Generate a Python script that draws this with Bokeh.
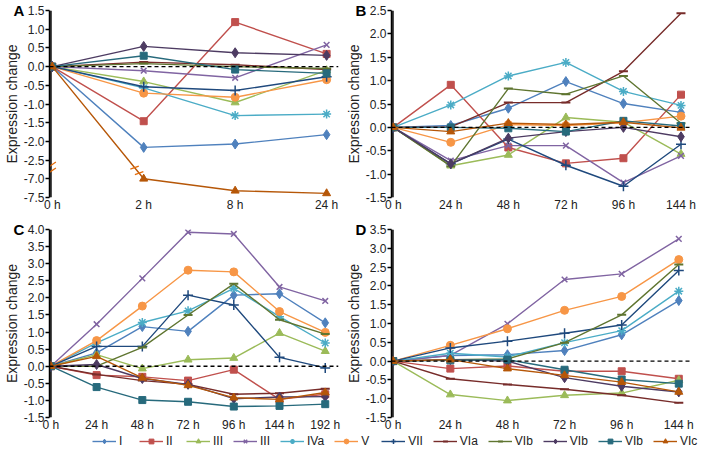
from bokeh.plotting import figure
from bokeh.models import Range1d, FixedTicker, Span, Legend, LegendItem
from bokeh.layouts import row, column
from bokeh.embed import file_html
from bokeh.resources import INLINE

# ---------------- data ----------------
series_names = ["I", "II", "III", "III", "IVa", "V", "VII", "VIa", "VIb", "VIb", "VIb", "VIc"]
colors = ["#4F81BD", "#C0504D", "#9BBB59", "#8064A2", "#4BACC6", "#F79646",
          "#1F497D", "#772C2A", "#5F7530", "#4D3B62", "#276A7C", "#B65708"]
markers = ["diamond", "square", "triangle", "x", "asterisk", "circle",
           "cross", "dash", "dash", "diamond", "square", "triangle"]

times_A = ["0 h", "2 h", "8 h", "24 h"]
A_I = [0, -2.16, -2.07, -1.82]
A_II = [0, -1.46, 1.19, 0.34]
A_III = [0, -0.40, -0.96, -0.10]
A_IIIx = [0, -0.11, -0.30, 0.58]
A_IVa = [0, -0.57, -1.31, -1.27]
A_V = [0, -0.71, -0.82, -0.35]
A_VII = [0, -0.54, -0.64, -0.27]
A_VIa = [0, 0.12, 0.05, -0.08]
A_VIb1 = [0, 0.08, 0.00, -0.05]
A_VIb2 = [0, 0.54, 0.37, 0.30]
A_VIb3 = [0, 0.29, -0.08, -0.18]
A_VIc = [0, -7.00, -7.32, -7.39]

times_B = ["0 h", "24 h", "48 h", "72 h", "96 h", "144 h"]
B_I = [0, 0.04, 0.41, 0.98, 0.51, 0.32]
B_II = [0, 0.91, -0.43, -0.77, -0.66, 0.70]
B_III = [0, -0.82, -0.59, 0.21, 0.11, -0.57]
B_IIIx = [0, -0.71, -0.39, -0.39, -1.18, -0.61]
B_IVa = [0, 0.48, 1.10, 1.39, 0.77, 0.47]
B_V = [0, -0.32, 0.06, 0.04, 0.10, 0.24]
B_VII = [0, -0.78, -0.25, -0.81, -1.26, -0.36]
B_VIa = [0, 0.01, 0.53, 0.53, 1.20, 2.44]
B_VIb1 = [0, -0.83, 0.83, 0.71, 1.10, 0.09]
B_VIb2 = [0, -0.78, -0.23, -0.09, 0.00, -0.20]
B_VIb3 = [0, 0.00, -0.02, -0.09, 0.14, 0.03]
B_VIc = [0, -0.09, 0.09, 0.06, 0.11, -0.01]

times_C = ["0 h", "24 h", "48 h", "72 h", "96 h", "144 h", "192 h"]
C_I = [0, 0.39, 1.16, 1.02, 2.08, 2.12, 1.27]
C_II = [0, -0.26, -0.31, -0.42, -0.10, -0.97, -0.82]
C_III = [0, 0.34, -0.07, 0.19, 0.24, 0.97, 0.44]
C_IIIx = [0, 1.23, 2.57, 3.92, 3.87, 2.32, 1.91]
C_IVa = [0, 0.68, 1.28, 1.62, 2.28, 1.45, 0.68]
C_V = [0, 0.75, 1.76, 2.81, 2.76, 1.60, 0.99]
C_VII = [0, 0.58, 0.58, 2.08, 1.79, 0.26, -0.05]
C_VIa = [0, -0.24, -0.42, -0.53, -0.82, -0.79, -0.66]
C_VIb1 = [0, 0.00, 0.55, 1.50, 2.41, 1.36, 0.94]
C_VIb2 = [0, 0.05, -0.36, -0.53, -0.95, -0.90, -0.89]
C_VIb3 = [0, -0.61, -0.99, -1.04, -1.18, -1.16, -1.11]
C_VIc = [0, 0.29, -0.34, -0.56, -0.92, -0.97, -0.77]

times_D = ["0 h", "24 h", "48 h", "72 h", "96 h", "144 h"]
D_I = [0, 0.15, 0.17, 0.28, 0.70, 1.61]
D_II = [0, -0.20, -0.13, -0.27, -0.27, -0.47]
D_III = [0, -0.89, -1.05, -0.91, -0.85, -0.51]
D_IIIx = [0, 0.15, 0.99, 2.17, 2.32, 3.25]
D_IVa = [0, 0.21, 0.11, 0.49, 0.81, 1.86]
D_V = [0, 0.42, 0.86, 1.35, 1.72, 2.70]
D_VII = [0, 0.35, 0.53, 0.74, 0.96, 2.41]
D_VIa = [0, -0.47, -0.62, -0.75, -0.91, -1.11]
D_VIb1 = [0, 0.04, 0.06, 0.49, 1.23, 2.57]
D_VIb2 = [0, 0.04, 0.00, -0.44, -0.67, -0.82]
D_VIb3 = [0, 0.02, 0.04, -0.23, -0.49, -0.60]
D_VIc = [0, 0.04, -0.20, -0.38, -0.56, -0.82]

panel_A = [A_I, A_II, A_III, A_IIIx, A_IVa, A_V, A_VII, A_VIa, A_VIb1, A_VIb2, A_VIb3, A_VIc]
panel_B = [B_I, B_II, B_III, B_IIIx, B_IVa, B_V, B_VII, B_VIa, B_VIb1, B_VIb2, B_VIb3, B_VIc]
panel_C = [C_I, C_II, C_III, C_IIIx, C_IVa, C_V, C_VII, C_VIa, C_VIb1, C_VIb2, C_VIb3, C_VIc]
panel_D = [D_I, D_II, D_III, D_IIIx, D_IVa, D_V, D_VII, D_VIa, D_VIb1, D_VIb2, D_VIb3, D_VIc]

BREAK_SHIFT = 4.0   # panel A: values below -3 are drawn 4 units higher (axis break)

FONT = "Liberation Sans"
marker_size = {"diamond": 10, "square": 7, "triangle": 8, "x": 8, "asterisk": 9,
               "circle": 8, "cross": 10, "dash": 9}
line_markers = {"x", "asterisk", "cross", "dash"}
X0 = -0.03


def fmt(v):
    return "%.1f" % v


def make_panel(letter, times, data, y0, y1, width, height, mbl, mbr, mbt, mbb,
               x_end_pad, broken=False, letter_offset=-36):
    n = len(times)
    x1 = n - 1 + x_end_pad
    p = figure(width=width, height=height, output_backend="svg", toolbar_location=None,
               x_range=Range1d(X0, x1), y_range=Range1d(y0, y1),
               min_border_left=mbl, min_border_right=mbr, min_border_top=mbt,
               min_border_bottom=mbb)
    p.grid.visible = False
    p.outline_line_color = None

    # panel letter as the plot title, pulled into the top-left corner
    p.title.text = letter
    p.title.align = "left"
    p.title.offset = letter_offset
    p.title.standoff = -17
    p.title.text_font = FONT
    p.title.text_font_size = "15px"
    p.title.text_font_style = "bold"
    p.title.text_color = "black"

    p.xaxis.ticker = FixedTicker(ticks=list(range(n)))
    p.xaxis.major_label_overrides = {i: t for i, t in enumerate(times)}
    p.xaxis.axis_line_alpha = 0
    p.xaxis.major_tick_line_alpha = 0
    p.xaxis.major_tick_in = 0
    p.xaxis.major_tick_out = 0
    p.xaxis.minor_tick_out = 0
    p.xaxis.major_label_standoff = 0
    p.xaxis.major_label_text_font = FONT
    p.xaxis.major_label_text_font_size = "12px"
    p.xaxis.major_label_text_color = "#222222"

    ticks = []
    v = y0
    while v <= y1 + 1e-9:
        ticks.append(round(v, 2))
        v += 0.5
    p.yaxis.ticker = FixedTicker(ticks=ticks)
    overrides = {}
    for t in ticks:
        lab = t - BREAK_SHIFT if (broken and t < -2.75) else t
        overrides[t] = fmt(lab)
    p.yaxis.major_label_overrides = overrides
    p.yaxis.axis_line_color = "black"
    p.yaxis.axis_line_width = 1.5
    p.yaxis.major_tick_line_color = "black"
    p.yaxis.major_tick_line_width = 1.3
    p.yaxis.major_tick_in = 0
    p.yaxis.major_tick_out = 4
    p.yaxis.major_label_standoff = 1
    p.yaxis.major_label_text_font = FONT
    p.yaxis.major_label_text_font_size = "12px"
    p.yaxis.major_label_text_color = "#222222"
    p.yaxis.axis_label = "Expression change"
    p.yaxis.axis_label_text_font = FONT
    p.yaxis.axis_label_text_font_size = "14px"
    p.yaxis.axis_label_text_font_style = "normal"
    p.yaxis.axis_label_text_color = "#222222"
    p.yaxis.axis_label_standoff = 1

    # reinforce the vertical axis rule just inside the plotting frame
    est_fw = width - max(mbl, 38) - mbr
    x_rule = X0 + 1.5 * (x1 - X0) / est_fw
    p.segment(x0=[x_rule], y0=[y0], x1=[x_rule], y1=[y1], line_color="black",
              line_width=1.5)

    xs = list(range(n))
    for vals, col, mk in zip(data, colors, markers):
        ys = [(y + BREAK_SHIFT if (broken and y < -3) else y) for y in vals]
        p.line(xs, ys, line_color=col, line_width=1.4)
        if mk in line_markers:
            p.scatter(xs, ys, marker=mk, size=marker_size[mk], line_color=col,
                      line_width=2.0 if mk == "dash" else 1.5)
        else:
            p.scatter(xs, ys, marker=mk, size=marker_size[mk], fill_color=col,
                      line_color=col)

    p.add_layout(Span(location=0, dimension="width", line_color="black",
                      line_dash="4 3", line_width=1.4))

    if broken:
        bc = "#E46C0A"
        p.scatter([x_rule, x_rule], [-2.64, -2.80], marker="dash", size=12, angle=0.6,
                  line_color=bc, line_width=1.3)
        t1, t2 = 0.90, 0.95
        yv = A_VIc[1] + BREAK_SHIFT
        p.scatter([t1, t2], [yv * t1, yv * t2], marker="dash", size=9, angle=0.35,
                  line_color=bc, line_width=1.3)
    return p


pA = make_panel("A", times_A, panel_A, -3.5, 1.5, 342, 219, 34, 4, 10, 22, 0.13,
                broken=True)
pB = make_panel("B", times_B, panel_B, -1.5, 2.5, 361, 219, 39, 11, 10, 22, 0.2)
pC = make_panel("C", times_C, panel_C, -1.5, 4.0, 342, 216, 34, 4, 10, 18, 0.29)
pD = make_panel("D", times_D, panel_D, -1.5, 3.5, 361, 216, 39, 11, 10, 18, 0.24)

pL = figure(width=703, height=14, output_backend="svg", toolbar_location=None,
            min_border=0, x_range=Range1d(0, 1), y_range=Range1d(0, 1))
pL.axis.visible = False
pL.grid.visible = False
pL.outline_line_color = None
items = []
hx, hy = [5], [5]  # placeholder points kept outside the visible range
for name, col, mk in zip(series_names, colors, markers):
    r1 = pL.line(hx, hy, line_color=col, line_width=1.4)
    if mk in line_markers:
        r2 = pL.scatter(hx, hy, marker=mk, size=marker_size[mk] - 1, line_color=col,
                        line_width=2.0 if mk == "dash" else 1.5)
    else:
        r2 = pL.scatter(hx, hy, marker=mk, size=marker_size[mk] - 1, fill_color=col,
                        line_color=col)
    items.append(LegendItem(label=name, renderers=[r1, r2]))
leg = Legend(items=items, orientation="horizontal", location=(92, 1),
             label_text_font=FONT, label_text_font_size="12px", label_text_color="#222222",
             glyph_width=24, glyph_height=12, label_standoff=3, spacing=10,
             padding=0, margin=0, border_line_color=None, background_fill_alpha=0,
             label_height=12, label_width=10)
pL.add_layout(leg, "center")

layout = column(row(pA, pB), row(pC, pD), pL)
open("out.html", "w").write(file_html(layout, INLINE))
